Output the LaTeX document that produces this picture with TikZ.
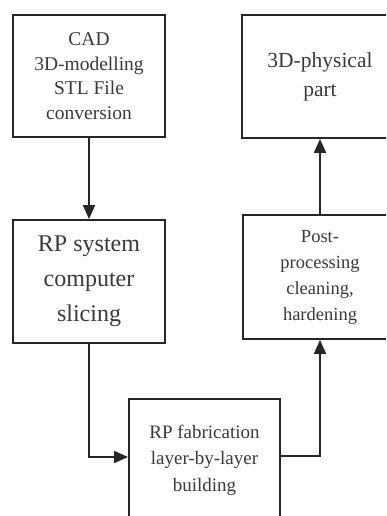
\documentclass[tikz,border=0pt]{standalone}
\usepackage{fontspec}
\setmainfont{Liberation Serif}
\usetikzlibrary{arrows.meta}
\definecolor{linec}{HTML}{262626}
\definecolor{textc}{HTML}{3A3A3A}
\begin{document}
\begin{tikzpicture}[x=1pt,y=-1pt,
  box/.style={draw=linec, line width=1.8pt, fill=white, text=textc, align=center, inner sep=0pt},
  conn/.style={draw=linec, line width=1.8pt, -{Triangle[length=14pt,width=12pt]}}]
\useasboundingbox (0,0) rectangle (386,516);
\fill[white] (0,0) rectangle (386,516);
\clip (0,0) rectangle (386,516);
\node[box, minimum width=152pt, minimum height=122pt, font=\fontsize{19.5}{24.5}\selectfont] (b1) at (89,76)
  {CAD\\3D-modelling\\STL File\\conversion};
\node[box, minimum width=152pt, minimum height=123pt, font=\fontsize{24}{35}\selectfont] (b2) at (89,281.5)
  {RP system\\computer\\slicing};
\node[box, minimum width=151pt, minimum height=122pt, font=\fontsize{19}{26.5}\selectfont] (b3) at (204.5,460)
  {RP fabrication\\layer-by-layer\\building};
\node[box, minimum width=154pt, minimum height=124pt, font=\fontsize{18.5}{26}\selectfont] (b4) at (320,277)
  {Post-\\processing\\cleaning,\\hardening};
\node[box, minimum width=156pt, minimum height=123pt, font=\fontsize{21.5}{29}\selectfont] (b5) at (320,76.5)
  {3D-physical\\part};
\draw[conn] (b1.south) -- (b2.north);
\draw[conn] (b2.south) |- ([yshift=3pt]b3.west);
\draw[conn] ([yshift=4pt]b3.east) -| (b4.south);
\draw[conn] (b4.north) -- (b5.south);
\end{tikzpicture}
\end{document}
